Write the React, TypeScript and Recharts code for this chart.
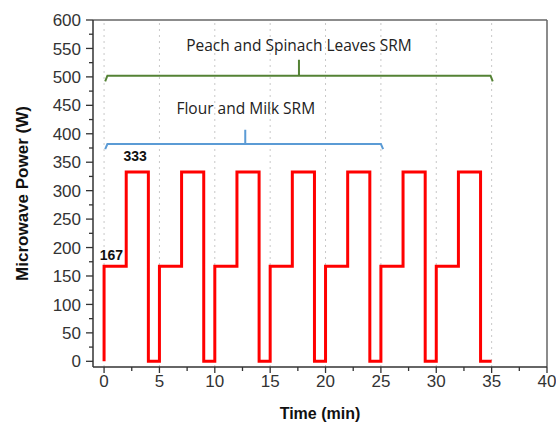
import React from 'react';
import { LineChart, Line, XAxis, YAxis, ReferenceLine, ReferenceDot } from 'recharts';

// Microwave power program (step profile)
const stepTime = [0, 0, 2, 2, 4, 4, 5, 5, 7, 7, 9, 9, 10, 10, 12, 12, 14, 14, 15, 15, 17, 17, 19, 19, 20, 20, 22, 22, 24, 24, 25, 25, 27, 27, 29, 29, 30, 30, 32, 32, 34, 34, 35];
const stepPower = [0, 167, 167, 333, 333, 0, 0, 167, 167, 333, 333, 0, 0, 167, 167, 333, 333, 0, 0, 167, 167, 333, 333, 0, 0, 167, 167, 333, 333, 0, 0, 167, 167, 333, 333, 0, 0, 167, 167, 333, 333, 0, 0];

// Bracket annotations
const greenTime = [0.1, 0.3, 17.6, 17.6, 17.6, 34.9, 35.1];
const greenValue = [492, 502, 502, 530, 502, 502, 492];
const blueTime = [0.1, 0.3, 12.75, 12.75, 12.75, 25.0, 25.2];
const blueValue = [373, 382, 382, 407, 382, 382, 373];

// Axis ticks
const xTicks = [0, 2.5, 5, 7.5, 10, 12.5, 15, 17.5, 20, 22.5, 25, 27.5, 30, 32.5, 35, 37.5, 40];
const xLabelTicks = [0, 5, 10, 15, 20, 25, 30, 35, 40];
const xGrid = [0, 5, 10, 15, 20, 25, 30, 35];
const yTicks = [0, 25, 50, 75, 100, 125, 150, 175, 200, 225, 250, 275, 300, 325, 350, 375, 400, 425, 450, 475, 500, 525, 550, 575, 600];
const yLabelTicks = [0, 50, 100, 150, 200, 250, 300, 350, 400, 450, 500, 550, 600];

// Text annotations
const annoTime = [17.6, 12.8];
const annoValue = [555, 445];
const annoText = ['Peach and Spinach Leaves SRM', 'Flour and Milk SRM'];
const levelTime = [0.66, 2.8];
const levelValue = [187, 360];
const levelText = ['167', '333'];

const stepData = stepTime.map((t, i) => ({ t, v: stepPower[i] }));
const greenData = greenTime.map((t, i) => ({ t, v: greenValue[i] }));
const blueData = blueTime.map((t, i) => ({ t, v: blueValue[i] }));

const tickFont = '"Liberation Sans", Arial, sans-serif';

const XTick = (props: any) => {
  const { x, y, payload } = props;
  const major = xLabelTicks.includes(payload.value);
  return (
    <g>
      <line x1={x} x2={x} y1={y} y2={y + (major ? 6 : 4)} stroke="#333" strokeWidth={1.3} />
      {major && (
        <text x={x} y={y + 20} textAnchor="middle" fontSize={17} fontFamily={tickFont} fill="#333">
          {payload.value}
        </text>
      )}
    </g>
  );
};

const YTick = (props: any) => {
  const { x, y, payload } = props;
  const major = yLabelTicks.includes(payload.value);
  return (
    <g>
      <line x1={x - (major ? 7 : 4)} x2={x} y1={y} y2={y} stroke="#333" strokeWidth={1.3} />
      {major && (
        <text x={x - 12} y={y} dy="0.36em" textAnchor="end" fontSize={17} fontFamily={tickFont} fill="#333">
          {payload.value}
        </text>
      )}
    </g>
  );
};

export default function App() {
  return (
    <div style={{ position: 'absolute', left: 0, top: 0, width: 556, height: 422, background: '#fff' }}>
      <LineChart width={556} height={422} margin={{ top: 20, right: 9, bottom: 0, left: 0 }}>
        <XAxis
          type="number"
          dataKey="t"
          domain={[-1, 40]}
          ticks={xTicks}
          interval={0}
          allowDataOverflow
          height={55}
          tickSize={0}
          tickMargin={0}
          tickLine={false}
          tick={<XTick />}
          axisLine={{ stroke: '#333', strokeWidth: 1.5 }}
          label={{
            value: 'Time (min)',
            position: 'insideBottom',
            offset: 3,
            style: { fontWeight: 'bold', fontSize: 16, fill: '#111', fontFamily: tickFont },
          }}
        />
        <YAxis
          type="number"
          dataKey="v"
          domain={[-10, 600]}
          ticks={yTicks}
          interval={0}
          allowDataOverflow
          width={93}
          tickSize={0}
          tickMargin={0}
          tickLine={false}
          tick={<YTick />}
          axisLine={{ stroke: '#333', strokeWidth: 1.5 }}
          label={{
            value: 'Microwave Power (W)',
            angle: -90,
            position: 'insideLeft',
            offset: 22,
            style: { textAnchor: 'middle', fontWeight: 'bold', fontSize: 17, fill: '#111', fontFamily: tickFont },
          }}
        />
        {xGrid.map((g) => (
          <ReferenceLine key={'g' + g} x={g} stroke="#c8c8c8" strokeDasharray="2 4" strokeWidth={1} />
        ))}
        <ReferenceLine y={600} stroke="#666" strokeWidth={1.5} />
        <ReferenceLine x={40} stroke="#666" strokeWidth={1.5} />
        <Line data={greenData} dataKey="v" type="linear" stroke="#548235" strokeWidth={2} dot={false} isAnimationActive={false} />
        <Line data={blueData} dataKey="v" type="linear" stroke="#5b9bd5" strokeWidth={2} dot={false} isAnimationActive={false} />
        <Line data={stepData} dataKey="v" type="linear" stroke="#ff0000" strokeWidth={3} dot={false} strokeLinejoin="miter" isAnimationActive={false} />
        {annoText.map((txt, i) => (
          <ReferenceDot
            key={'a' + i}
            x={annoTime[i]}
            y={annoValue[i]}
            r={0}
            fill="none"
            stroke="none"
            label={{ value: txt, position: 'center', fill: '#222', fontSize: 15.5, fontFamily: '"Open Sans", sans-serif' }}
          />
        ))}
        {levelText.map((txt, i) => (
          <ReferenceDot
            key={'l' + i}
            x={levelTime[i]}
            y={levelValue[i]}
            r={0}
            fill="none"
            stroke="none"
            label={{ value: txt, position: 'center', fill: '#111', fontSize: 14, fontWeight: 'bold', fontFamily: tickFont }}
          />
        ))}
      </LineChart>
    </div>
  );
}
